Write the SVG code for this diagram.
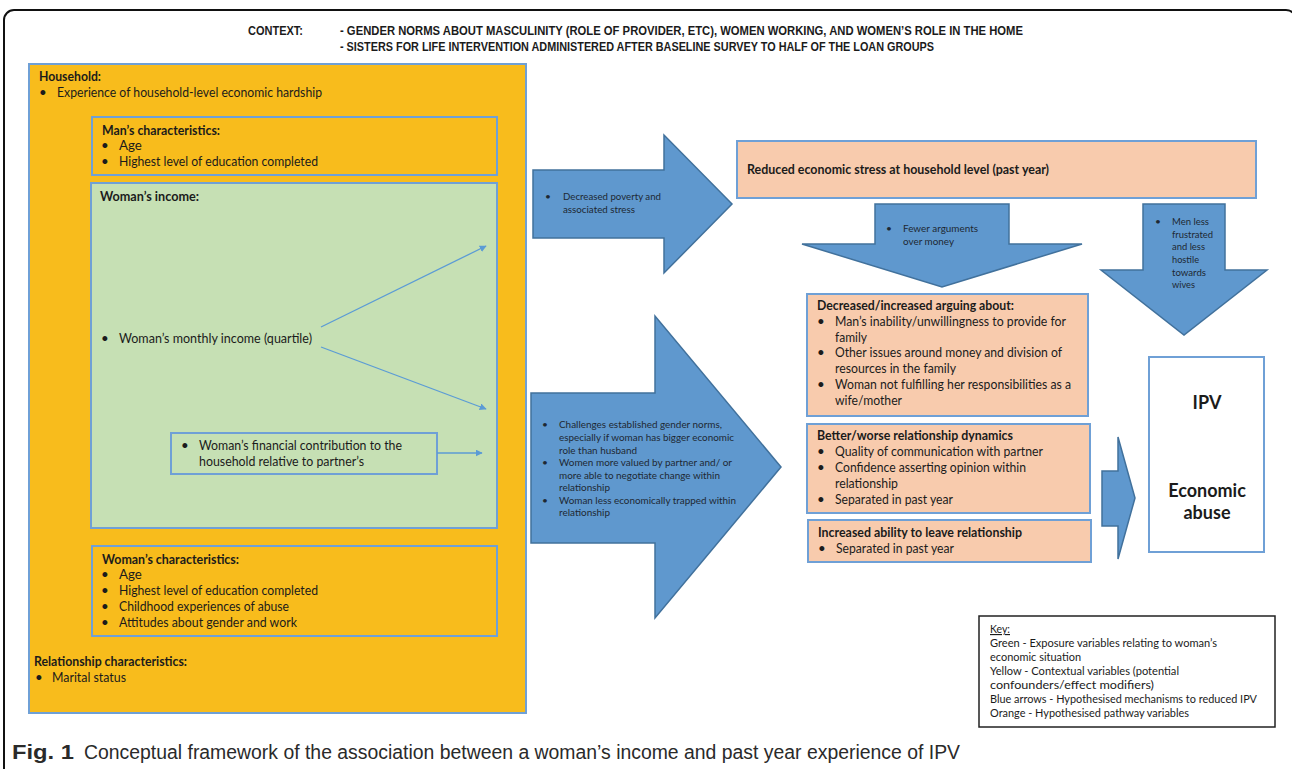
<svg xmlns="http://www.w3.org/2000/svg" width="1292" height="769" viewBox="0 0 1292 769">
<defs>
<style>
text{font-family:Lato,"Liberation Sans",sans-serif;fill:#1b1b1b;}
.t{font-size:13.3px;}
.b{font-size:13.3px;font-weight:bold;}
.s{font-size:10.2px;fill:#1e2833;}
.k{font-size:11.4px;}
.cx{font-family:"Liberation Sans",sans-serif;font-size:12px;font-weight:bold;}
.cap{font-family:"Liberation Sans",sans-serif;font-size:20px;fill:#2a2a2a;}
.yel{fill:#F8BC1C;stroke:#6FA0D6;stroke-width:2;}
.grn{fill:#C6E0B4;stroke:#6FA0D6;stroke-width:2;}
.org{fill:#F8CBAD;stroke:#6FA0D6;stroke-width:2;}
.wht{fill:#FFFFFF;stroke:#6FA0D6;stroke-width:2;}
.arr{fill:#5F98CE;stroke:#41719C;stroke-width:1.5;stroke-linejoin:miter;}
.con{stroke:#5B9BD5;stroke-width:1.3;fill:none;marker-end:url(#ah);}
</style>
<marker id="ah" viewBox="0 0 10 10" refX="9" refY="5" markerWidth="7" markerHeight="7" orient="auto" markerUnits="userSpaceOnUse">
<path d="M0,0 L10,5 L0,10 z" fill="#5B9BD5"/>
</marker>
</defs>

<g id="frame">
<rect x="4" y="10" width="1292" height="800" rx="10" ry="10" fill="none" stroke="#111" stroke-width="2"/>
</g>

<g id="context">
<text class="cx" x="248" y="35" textLength="55" lengthAdjust="spacingAndGlyphs">CONTEXT:</text>
<text class="cx" x="340" y="35" textLength="683" lengthAdjust="spacingAndGlyphs">- GENDER NORMS ABOUT MASCULINITY (ROLE OF PROVIDER, ETC), WOMEN WORKING, AND WOMEN’S ROLE IN THE HOME</text>
<text class="cx" x="340" y="51" textLength="594" lengthAdjust="spacingAndGlyphs">- SISTERS FOR LIFE INTERVENTION ADMINISTERED AFTER BASELINE SURVEY TO HALF OF THE LOAN GROUPS</text>
</g>

<g id="household">
<rect class="yel" x="29" y="64" width="497" height="649"/>
<text class="b" x="39" y="81" textLength="62" lengthAdjust="spacingAndGlyphs">Household:</text>
<text class="t" x="39" y="97">•</text>
<text class="t" x="57" y="97" textLength="265" lengthAdjust="spacingAndGlyphs">Experience of household-level economic hardship</text>
<text class="b" x="34" y="666" textLength="153" lengthAdjust="spacingAndGlyphs">Relationship characteristics:</text>
<text class="t" x="35" y="682">•</text>
<text class="t" x="52" y="682" textLength="74" lengthAdjust="spacingAndGlyphs">Marital status</text>
</g>

<g id="mans-characteristics">
<rect class="yel" x="92" y="117" width="405" height="58"/>
<text class="b" x="102" y="135" textLength="118" lengthAdjust="spacingAndGlyphs">Man’s characteristics:</text>
<text class="t" x="101" y="150">•</text>
<text class="t" x="119" y="150">Age</text>
<text class="t" x="101" y="166">•</text>
<text class="t" x="119" y="166" textLength="199" lengthAdjust="spacingAndGlyphs">Highest level of education completed</text>
</g>

<g id="womans-income">
<rect class="grn" x="91" y="183" width="406" height="345"/>
<text class="b" x="100" y="201" textLength="99" lengthAdjust="spacingAndGlyphs">Woman’s income:</text>
<text class="t" x="101" y="343">•</text>
<text class="t" x="119" y="343" textLength="193" lengthAdjust="spacingAndGlyphs">Woman’s monthly income (quartile)</text>
</g>

<g id="financial-contribution">
<rect class="grn" x="171" y="433" width="266" height="41"/>
<text class="t" x="181" y="450">•</text>
<text class="t" x="199" y="450" textLength="203" lengthAdjust="spacingAndGlyphs">Woman’s financial contribution to the</text>
<text class="t" x="199" y="466" textLength="165" lengthAdjust="spacingAndGlyphs">household relative to partner’s</text>
</g>

<g id="womans-characteristics">
<rect class="yel" x="92" y="546" width="405" height="90"/>
<text class="b" x="102" y="564" textLength="137" lengthAdjust="spacingAndGlyphs">Woman’s characteristics:</text>
<text class="t" x="101" y="579">•</text>
<text class="t" x="119" y="579">Age</text>
<text class="t" x="101" y="595">•</text>
<text class="t" x="119" y="595" textLength="199" lengthAdjust="spacingAndGlyphs">Highest level of education completed</text>
<text class="t" x="101" y="611">•</text>
<text class="t" x="119" y="611" textLength="170" lengthAdjust="spacingAndGlyphs">Childhood experiences of abuse</text>
<text class="t" x="101" y="627">•</text>
<text class="t" x="119" y="627" textLength="178" lengthAdjust="spacingAndGlyphs">Attitudes about gender and work</text>
</g>

<g id="connectors">
<line class="con" x1="321" y1="327" x2="486" y2="246"/>
<line class="con" x1="321" y1="347" x2="486" y2="409"/>
<line class="con" x1="437" y1="453" x2="482" y2="453"/>
</g>

<g id="arrow-poverty">
<polygon class="arr" points="533,170 664,170 664,135 732,204 664,273 664,238 533,238"/>
<text class="s" x="545" y="200">•</text>
<text class="s" x="563" y="200" textLength="98" lengthAdjust="spacingAndGlyphs">Decreased poverty and</text>
<text class="s" x="563" y="213" textLength="72" lengthAdjust="spacingAndGlyphs">associated stress</text>
</g>

<g id="arrow-norms">
<polygon class="arr" points="531,393 655,393 655,316 781,467 655,618 655,543 531,543"/>
<text class="s" x="542" y="428">•</text>
<text class="s" x="559" y="428" textLength="163" lengthAdjust="spacingAndGlyphs">Challenges established gender norms,</text>
<text class="s" x="559" y="441" textLength="175" lengthAdjust="spacingAndGlyphs">especially if woman has bigger economic</text>
<text class="s" x="559" y="454" textLength="78" lengthAdjust="spacingAndGlyphs">role than husband</text>
<text class="s" x="542" y="466">•</text>
<text class="s" x="559" y="466" textLength="173" lengthAdjust="spacingAndGlyphs">Women more valued by partner and/ or</text>
<text class="s" x="559" y="479" textLength="161" lengthAdjust="spacingAndGlyphs">more able to negotiate change within</text>
<text class="s" x="559" y="491" textLength="51" lengthAdjust="spacingAndGlyphs">relationship</text>
<text class="s" x="542" y="504">•</text>
<text class="s" x="559" y="504" textLength="177" lengthAdjust="spacingAndGlyphs">Woman less economically trapped within</text>
<text class="s" x="559" y="516" textLength="51" lengthAdjust="spacingAndGlyphs">relationship</text>
</g>

<g id="reduced-stress">
<rect class="org" x="737" y="141" width="519" height="57"/>
<text class="b" x="747" y="174" textLength="302" lengthAdjust="spacingAndGlyphs">Reduced economic stress at household level (past year)</text>
</g>

<g id="arrow-fewer-arguments">
<polygon class="arr" points="875,204 1009,204 1009,244 1082,244 942,287 802,244 875,244"/>
<text class="s" x="886" y="232">•</text>
<text class="s" x="903" y="232" textLength="75" lengthAdjust="spacingAndGlyphs">Fewer arguments</text>
<text class="s" x="903" y="245" textLength="51" lengthAdjust="spacingAndGlyphs">over money</text>
</g>

<g id="arrow-men-less-frustrated">
<polygon class="arr" points="1143,204 1225,204 1225,270 1267,270 1184,335 1101,270 1143,270"/>
<text class="s" x="1155" y="225">•</text>
<text class="s" x="1172" y="225" textLength="37" lengthAdjust="spacingAndGlyphs">Men less</text>
<text class="s" x="1172" y="238" textLength="41" lengthAdjust="spacingAndGlyphs">frustrated</text>
<text class="s" x="1172" y="250" textLength="33" lengthAdjust="spacingAndGlyphs">and less</text>
<text class="s" x="1172" y="263" textLength="27" lengthAdjust="spacingAndGlyphs">hostile</text>
<text class="s" x="1172" y="276" textLength="34" lengthAdjust="spacingAndGlyphs">towards</text>
<text class="s" x="1172" y="288" textLength="23" lengthAdjust="spacingAndGlyphs">wives</text>
</g>

<g id="arguing">
<rect class="org" x="807" y="294" width="281" height="122"/>
<text class="b" x="817" y="310" textLength="197" lengthAdjust="spacingAndGlyphs">Decreased/increased arguing about:</text>
<text class="t" x="817" y="326">•</text>
<text class="t" x="835" y="326" textLength="231" lengthAdjust="spacingAndGlyphs">Man’s inability/unwillingness to provide for</text>
<text class="t" x="835" y="342" textLength="32" lengthAdjust="spacingAndGlyphs">family</text>
<text class="t" x="817" y="357">•</text>
<text class="t" x="835" y="357" textLength="227" lengthAdjust="spacingAndGlyphs">Other issues around money and division of</text>
<text class="t" x="835" y="373" textLength="121" lengthAdjust="spacingAndGlyphs">resources in the family</text>
<text class="t" x="817" y="389">•</text>
<text class="t" x="835" y="389" textLength="236" lengthAdjust="spacingAndGlyphs">Woman not fulfilling her responsibilities as a</text>
<text class="t" x="835" y="405" textLength="67" lengthAdjust="spacingAndGlyphs">wife/mother</text>
</g>

<g id="relationship-dynamics">
<rect class="org" x="807" y="424" width="283" height="89"/>
<text class="b" x="817" y="440" textLength="196" lengthAdjust="spacingAndGlyphs">Better/worse relationship dynamics</text>
<text class="t" x="817" y="456">•</text>
<text class="t" x="835" y="456" textLength="208" lengthAdjust="spacingAndGlyphs">Quality of communication with partner</text>
<text class="t" x="817" y="472">•</text>
<text class="t" x="835" y="472" textLength="191" lengthAdjust="spacingAndGlyphs">Confidence asserting opinion within</text>
<text class="t" x="835" y="488" textLength="63" lengthAdjust="spacingAndGlyphs">relationship</text>
<text class="t" x="817" y="504">•</text>
<text class="t" x="835" y="504" textLength="118" lengthAdjust="spacingAndGlyphs">Separated in past year</text>
</g>

<g id="leave-relationship">
<rect class="org" x="808" y="520" width="283" height="42"/>
<text class="b" x="818" y="537" textLength="204" lengthAdjust="spacingAndGlyphs">Increased ability to leave relationship</text>
<text class="t" x="818" y="553">•</text>
<text class="t" x="836" y="553" textLength="118" lengthAdjust="spacingAndGlyphs">Separated in past year</text>
</g>

<g id="arrow-to-outcome">
<polygon class="arr" points="1102,471 1118,471 1118,437 1135,498 1118,559 1118,526 1102,526"/>
</g>

<g id="outcome">
<rect class="wht" x="1149" y="357" width="115" height="195"/>
<text x="1207" y="409" text-anchor="middle" style="font-size:18px;font-weight:bold">IPV</text>
<text x="1207" y="497" text-anchor="middle" style="font-size:18px;font-weight:bold">Economic</text>
<text x="1207" y="519" text-anchor="middle" style="font-size:18px;font-weight:bold">abuse</text>
</g>

<g id="key">
<rect x="979" y="616" width="296" height="111" fill="#fff" stroke="#222" stroke-width="1.5"/>
<text class="k" x="990" y="633" text-decoration="underline" textLength="20" lengthAdjust="spacingAndGlyphs">Key:</text>
<text class="k" x="990" y="647" textLength="227" lengthAdjust="spacingAndGlyphs">Green - Exposure variables relating to woman’s</text>
<text class="k" x="990" y="661" textLength="91" lengthAdjust="spacingAndGlyphs">economic situation</text>
<text class="k" x="990" y="675" textLength="189" lengthAdjust="spacingAndGlyphs">Yellow - Contextual variables (potential</text>
<text class="k" x="990" y="689" textLength="164" lengthAdjust="spacingAndGlyphs">confounders/effect modifiers)</text>
<text class="k" x="990" y="703" textLength="267" lengthAdjust="spacingAndGlyphs">Blue arrows - Hypothesised mechanisms to reduced IPV</text>
<text class="k" x="990" y="717" textLength="199" lengthAdjust="spacingAndGlyphs">Orange - Hypothesised pathway variables</text>
</g>

<g id="caption">
<text class="cap" x="12" y="759" font-weight="bold" textLength="62" lengthAdjust="spacingAndGlyphs">Fig. 1</text>
<text class="cap" x="84" y="759" textLength="876" lengthAdjust="spacingAndGlyphs">Conceptual framework of the association between a woman’s income and past year experience of IPV</text>
</g>
</svg>
